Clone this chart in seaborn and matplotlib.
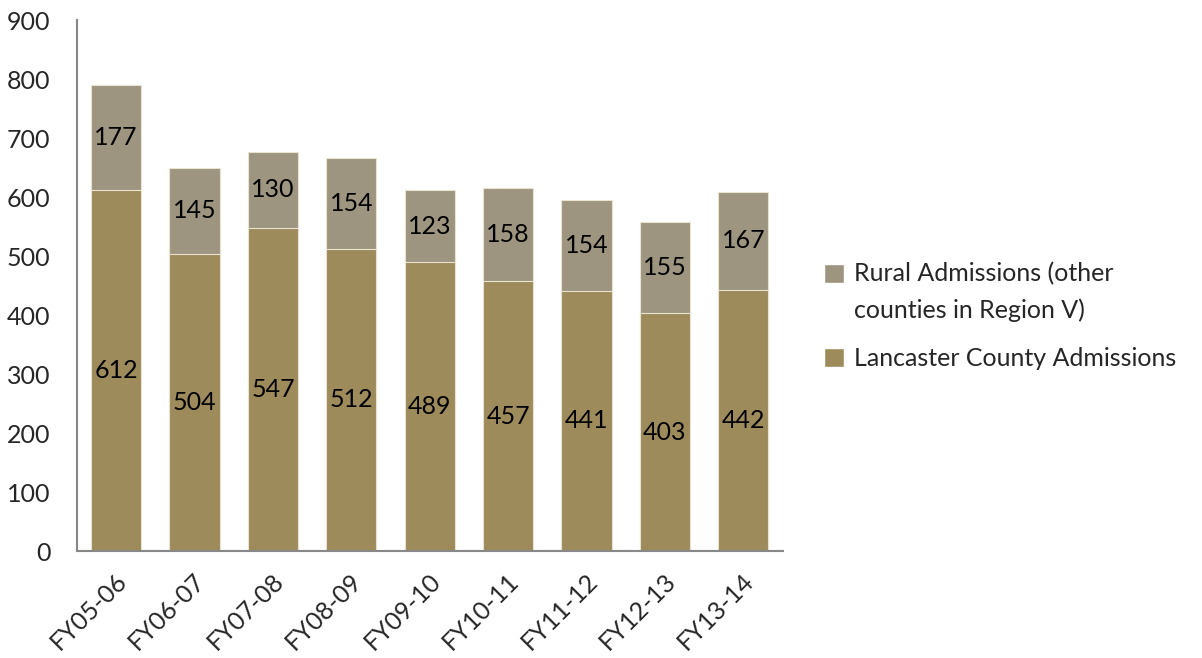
import matplotlib
matplotlib.use("Agg")
import matplotlib.pyplot as plt
import matplotlib.transforms as mtransforms
import seaborn as sns
import pandas as pd
from matplotlib.patches import Patch

years = ["FY05-06", "FY06-07", "FY07-08", "FY08-09", "FY09-10",
         "FY10-11", "FY11-12", "FY12-13", "FY13-14"]
lancaster = [612, 504, 547, 512, 489, 457, 441, 403, 442]
rural = [177, 145, 130, 154, 123, 158, 154, 155, 167]

c_lanc = "#9E8B5B"
c_rural = "#9E9580"

sns.set_theme(style="white")
plt.rcParams['font.family'] = ['Lato', 'DejaVu Sans']

df = pd.DataFrame({"year": years, "lanc": lancaster, "rural": rural})
df["total"] = df["lanc"] + df["rural"]

fig = plt.figure(figsize=(12.02, 6.58), dpi=100)
ax = fig.add_axes([0.064, 0.1626, 0.587, 0.807])

sns.barplot(data=df, x="year", y="total", color=c_rural, saturation=1,
            width=0.64, ax=ax, edgecolor="#E8E2D0", linewidth=0.8)
sns.barplot(data=df, x="year", y="lanc", color=c_lanc, saturation=1,
            width=0.64, ax=ax, edgecolor="#E8E2D0", linewidth=0.8)

fs = 18
for i, (l, r) in enumerate(zip(lancaster, rural)):
    ax.text(i, l / 2, str(l), ha="center", va="center", fontsize=fs, color="black")
    ax.text(i, l + r / 2, str(r), ha="center", va="center", fontsize=fs, color="black")

ax.set_ylim(0, 900)
ax.set_yticks(range(0, 901, 100))
ax.set_xlim(-0.5, len(years) - 0.5)
ax.set_xlabel("")
ax.set_ylabel("")
ax.tick_params(axis="y", labelsize=fs, length=0, pad=19)
ax.tick_params(axis="x", labelsize=fs, length=0, pad=19)
offset = mtransforms.ScaledTranslation(7 / 100, 0, fig.dpi_scale_trans)
for lbl in ax.get_xticklabels():
    lbl.set_rotation(45)
    lbl.set_ha("right")
    lbl.set_va("center")
    lbl.set_rotation_mode("anchor")
    lbl.set_transform(lbl.get_transform() + offset)

for s in ["top", "right"]:
    ax.spines[s].set_visible(False)
for s in ["left", "bottom"]:
    ax.spines[s].set_color("#888888")
    ax.spines[s].set_linewidth(1.5)

handles = [Patch(facecolor=c_rural, label="Rural Admissions (other\ncounties in Region V)"),
           Patch(facecolor=c_lanc, label="Lancaster County Admissions")]
leg = fig.legend(handles=handles, loc="center left", bbox_to_anchor=(0.667, 0.52),
                 frameon=False, fontsize=fs, handlelength=0.8, handleheight=0.8,
                 handletextpad=0.4, labelspacing=1.0)
for t in leg.get_texts():
    t.set_linespacing(1.7)
p0 = leg.get_patches()[0]
p0.set_y(p0.get_y() + 13.7)

fig.savefig("out.png", dpi=100)
